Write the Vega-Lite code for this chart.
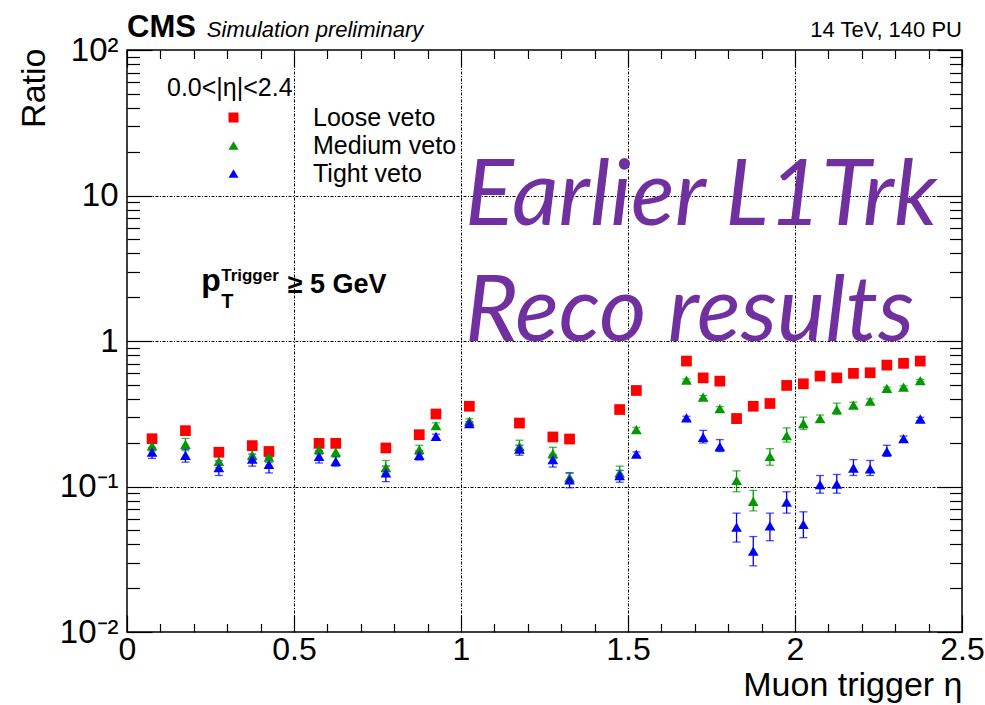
{
  "$schema": "https://vega.github.io/schema/vega-lite/v6.json",
  "width": 835,
  "height": 582,
  "autosize": {"type": "none"},
  "padding": {"left": 127, "top": 50, "right": 23, "bottom": 73},
  "background": "white",
  "config": {
    "font": "Liberation Sans",
    "view": {"stroke": "black", "strokeWidth": 1.5}
  },
  "datasets": {
    "ratios": [
      {"eta": 0.075, "veto": "Loose veto", "ratio": 0.213, "lo": 0.203, "hi": 0.223},
      {"eta": 0.175, "veto": "Loose veto", "ratio": 0.242, "lo": 0.228, "hi": 0.256},
      {"eta": 0.275, "veto": "Loose veto", "ratio": 0.172, "lo": 0.163, "hi": 0.181},
      {"eta": 0.375, "veto": "Loose veto", "ratio": 0.191, "lo": 0.181, "hi": 0.201},
      {"eta": 0.425, "veto": "Loose veto", "ratio": 0.174, "lo": 0.163, "hi": 0.186},
      {"eta": 0.575, "veto": "Loose veto", "ratio": 0.198, "lo": 0.189, "hi": 0.207},
      {"eta": 0.625, "veto": "Loose veto", "ratio": 0.198, "lo": 0.189, "hi": 0.207},
      {"eta": 0.775, "veto": "Loose veto", "ratio": 0.184, "lo": 0.174, "hi": 0.194},
      {"eta": 0.875, "veto": "Loose veto", "ratio": 0.227, "lo": 0.218, "hi": 0.236},
      {"eta": 0.925, "veto": "Loose veto", "ratio": 0.315, "lo": 0.305, "hi": 0.325},
      {"eta": 1.025, "veto": "Loose veto", "ratio": 0.356, "lo": 0.346, "hi": 0.366},
      {"eta": 1.175, "veto": "Loose veto", "ratio": 0.273, "lo": 0.265, "hi": 0.281},
      {"eta": 1.275, "veto": "Loose veto", "ratio": 0.219, "lo": 0.211, "hi": 0.227},
      {"eta": 1.325, "veto": "Loose veto", "ratio": 0.212, "lo": 0.204, "hi": 0.220},
      {"eta": 1.475, "veto": "Loose veto", "ratio": 0.338, "lo": 0.330, "hi": 0.346},
      {"eta": 1.525, "veto": "Loose veto", "ratio": 0.457, "lo": 0.447, "hi": 0.467},
      {"eta": 1.675, "veto": "Loose veto", "ratio": 0.728, "lo": 0.715, "hi": 0.741},
      {"eta": 1.725, "veto": "Loose veto", "ratio": 0.558, "lo": 0.546, "hi": 0.570},
      {"eta": 1.775, "veto": "Loose veto", "ratio": 0.530, "lo": 0.518, "hi": 0.542},
      {"eta": 1.825, "veto": "Loose veto", "ratio": 0.293, "lo": 0.272, "hi": 0.314},
      {"eta": 1.875, "veto": "Loose veto", "ratio": 0.356, "lo": 0.343, "hi": 0.369},
      {"eta": 1.925, "veto": "Loose veto", "ratio": 0.372, "lo": 0.355, "hi": 0.389},
      {"eta": 1.975, "veto": "Loose veto", "ratio": 0.495, "lo": 0.483, "hi": 0.507},
      {"eta": 2.025, "veto": "Loose veto", "ratio": 0.508, "lo": 0.496, "hi": 0.520},
      {"eta": 2.075, "veto": "Loose veto", "ratio": 0.574, "lo": 0.562, "hi": 0.586},
      {"eta": 2.125, "veto": "Loose veto", "ratio": 0.558, "lo": 0.546, "hi": 0.570},
      {"eta": 2.175, "veto": "Loose veto", "ratio": 0.599, "lo": 0.587, "hi": 0.611},
      {"eta": 2.225, "veto": "Loose veto", "ratio": 0.605, "lo": 0.593, "hi": 0.617},
      {"eta": 2.275, "veto": "Loose veto", "ratio": 0.683, "lo": 0.671, "hi": 0.695},
      {"eta": 2.325, "veto": "Loose veto", "ratio": 0.702, "lo": 0.690, "hi": 0.714},
      {"eta": 2.375, "veto": "Loose veto", "ratio": 0.728, "lo": 0.716, "hi": 0.740},

      {"eta": 0.075, "veto": "Medium veto", "ratio": 0.190, "lo": 0.176, "hi": 0.205},
      {"eta": 0.175, "veto": "Medium veto", "ratio": 0.195, "lo": 0.176, "hi": 0.214},
      {"eta": 0.275, "veto": "Medium veto", "ratio": 0.149, "lo": 0.135, "hi": 0.166},
      {"eta": 0.375, "veto": "Medium veto", "ratio": 0.164, "lo": 0.151, "hi": 0.177},
      {"eta": 0.425, "veto": "Medium veto", "ratio": 0.159, "lo": 0.146, "hi": 0.178},
      {"eta": 0.575, "veto": "Medium veto", "ratio": 0.180, "lo": 0.166, "hi": 0.199},
      {"eta": 0.625, "veto": "Medium veto", "ratio": 0.172, "lo": 0.159, "hi": 0.186},
      {"eta": 0.775, "veto": "Medium veto", "ratio": 0.135, "lo": 0.123, "hi": 0.151},
      {"eta": 0.875, "veto": "Medium veto", "ratio": 0.179, "lo": 0.166, "hi": 0.192},
      {"eta": 0.925, "veto": "Medium veto", "ratio": 0.262, "lo": 0.250, "hi": 0.274},
      {"eta": 1.025, "veto": "Medium veto", "ratio": 0.281, "lo": 0.270, "hi": 0.292},
      {"eta": 1.175, "veto": "Medium veto", "ratio": 0.189, "lo": 0.176, "hi": 0.208},
      {"eta": 1.275, "veto": "Medium veto", "ratio": 0.168, "lo": 0.155, "hi": 0.186},
      {"eta": 1.325, "veto": "Medium veto", "ratio": 0.115, "lo": 0.106, "hi": 0.124},
      {"eta": 1.475, "veto": "Medium veto", "ratio": 0.124, "lo": 0.114, "hi": 0.138},
      {"eta": 1.525, "veto": "Medium veto", "ratio": 0.246, "lo": 0.237, "hi": 0.255},
      {"eta": 1.675, "veto": "Medium veto", "ratio": 0.538, "lo": 0.527, "hi": 0.549},
      {"eta": 1.725, "veto": "Medium veto", "ratio": 0.411, "lo": 0.400, "hi": 0.422},
      {"eta": 1.775, "veto": "Medium veto", "ratio": 0.343, "lo": 0.332, "hi": 0.354},
      {"eta": 1.825, "veto": "Medium veto", "ratio": 0.110, "lo": 0.092, "hi": 0.128},
      {"eta": 1.875, "veto": "Medium veto", "ratio": 0.079, "lo": 0.068, "hi": 0.094},
      {"eta": 1.925, "veto": "Medium veto", "ratio": 0.161, "lo": 0.140, "hi": 0.182},
      {"eta": 1.975, "veto": "Medium veto", "ratio": 0.224, "lo": 0.202, "hi": 0.253},
      {"eta": 2.025, "veto": "Medium veto", "ratio": 0.271, "lo": 0.247, "hi": 0.300},
      {"eta": 2.075, "veto": "Medium veto", "ratio": 0.293, "lo": 0.277, "hi": 0.310},
      {"eta": 2.125, "veto": "Medium veto", "ratio": 0.338, "lo": 0.314, "hi": 0.374},
      {"eta": 2.175, "veto": "Medium veto", "ratio": 0.362, "lo": 0.345, "hi": 0.380},
      {"eta": 2.225, "veto": "Medium veto", "ratio": 0.386, "lo": 0.372, "hi": 0.400},
      {"eta": 2.275, "veto": "Medium veto", "ratio": 0.472, "lo": 0.462, "hi": 0.482},
      {"eta": 2.325, "veto": "Medium veto", "ratio": 0.482, "lo": 0.472, "hi": 0.492},
      {"eta": 2.375, "veto": "Medium veto", "ratio": 0.535, "lo": 0.525, "hi": 0.545},

      {"eta": 0.075, "veto": "Tight veto", "ratio": 0.172, "lo": 0.156, "hi": 0.185},
      {"eta": 0.175, "veto": "Tight veto", "ratio": 0.164, "lo": 0.147, "hi": 0.180},
      {"eta": 0.275, "veto": "Tight veto", "ratio": 0.135, "lo": 0.119, "hi": 0.150},
      {"eta": 0.375, "veto": "Tight veto", "ratio": 0.154, "lo": 0.138, "hi": 0.167},
      {"eta": 0.425, "veto": "Tight veto", "ratio": 0.142, "lo": 0.124, "hi": 0.157},
      {"eta": 0.575, "veto": "Tight veto", "ratio": 0.161, "lo": 0.145, "hi": 0.176},
      {"eta": 0.625, "veto": "Tight veto", "ratio": 0.149, "lo": 0.138, "hi": 0.161},
      {"eta": 0.775, "veto": "Tight veto", "ratio": 0.124, "lo": 0.108, "hi": 0.138},
      {"eta": 0.875, "veto": "Tight veto", "ratio": 0.164, "lo": 0.152, "hi": 0.176},
      {"eta": 0.925, "veto": "Tight veto", "ratio": 0.221, "lo": 0.213, "hi": 0.229},
      {"eta": 1.025, "veto": "Tight veto", "ratio": 0.271, "lo": 0.263, "hi": 0.279},
      {"eta": 1.175, "veto": "Tight veto", "ratio": 0.181, "lo": 0.164, "hi": 0.192},
      {"eta": 1.275, "veto": "Tight veto", "ratio": 0.153, "lo": 0.136, "hi": 0.165},
      {"eta": 1.325, "veto": "Tight veto", "ratio": 0.111, "lo": 0.098, "hi": 0.124},
      {"eta": 1.475, "veto": "Tight veto", "ratio": 0.119, "lo": 0.107, "hi": 0.129},
      {"eta": 1.525, "veto": "Tight veto", "ratio": 0.167, "lo": 0.161, "hi": 0.173},
      {"eta": 1.675, "veto": "Tight veto", "ratio": 0.296, "lo": 0.288, "hi": 0.304},
      {"eta": 1.725, "veto": "Tight veto", "ratio": 0.218, "lo": 0.199, "hi": 0.243},
      {"eta": 1.775, "veto": "Tight veto", "ratio": 0.188, "lo": 0.174, "hi": 0.210},
      {"eta": 1.825, "veto": "Tight veto", "ratio": 0.0525, "lo": 0.0415, "hi": 0.0656},
      {"eta": 1.875, "veto": "Tight veto", "ratio": 0.036, "lo": 0.0285, "hi": 0.0453},
      {"eta": 1.925, "veto": "Tight veto", "ratio": 0.0537, "lo": 0.0424, "hi": 0.0656},
      {"eta": 1.975, "veto": "Tight veto", "ratio": 0.078, "lo": 0.0656, "hi": 0.092},
      {"eta": 2.025, "veto": "Tight veto", "ratio": 0.055, "lo": 0.0445, "hi": 0.067},
      {"eta": 2.075, "veto": "Tight veto", "ratio": 0.103, "lo": 0.090, "hi": 0.119},
      {"eta": 2.125, "veto": "Tight veto", "ratio": 0.104, "lo": 0.090, "hi": 0.121},
      {"eta": 2.175, "veto": "Tight veto", "ratio": 0.134, "lo": 0.119, "hi": 0.153},
      {"eta": 2.225, "veto": "Tight veto", "ratio": 0.132, "lo": 0.119, "hi": 0.151},
      {"eta": 2.275, "veto": "Tight veto", "ratio": 0.174, "lo": 0.161, "hi": 0.192},
      {"eta": 2.325, "veto": "Tight veto", "ratio": 0.213, "lo": 0.204, "hi": 0.222},
      {"eta": 2.375, "veto": "Tight veto", "ratio": 0.291, "lo": 0.283, "hi": 0.299}
    ],
    "one": [{}]
  },
  "layer": [
    {
      "data": {"name": "ratios"},
      "mark": {"type": "rule", "strokeWidth": 1.3},
      "encoding": {
        "x": {
          "field": "eta", "type": "quantitative",
          "scale": {"domain": [0, 2.5], "nice": false, "zero": false},
          "axis": {
            "orient": "bottom",
            "values": [0, 0.1, 0.2, 0.3, 0.4, 0.5, 0.6, 0.7, 0.8, 0.9, 1, 1.1, 1.2, 1.3, 1.4, 1.5, 1.6, 1.7, 1.8, 1.9, 2, 2.1, 2.2, 2.3, 2.4, 2.5],
            "domain": false,
            "labelExpr": "abs(datum.value*2-round(datum.value*2))<1e-6 ? format(datum.value, '~g') : ''",
            "labelFont": "Liberation Sans", "labelFontSize": 32, "labelColor": "black",
            "labelFlush": false, "labelOverlap": false, "labelPadding": 19,
            "tickColor": "black", "tickWidth": 1.2,
            "tickSize": {"condition": {"test": "abs(datum.value*2-round(datum.value*2))<1e-6", "value": -17}, "value": -8.5},
            "grid": true, "gridColor": "black", "gridWidth": 1, "gridDash": [3, 1.5, 1, 1.5],
            "gridOpacity": {"condition": {"test": "datum.value>0.01 && datum.value<2.49 && abs(datum.value*2-round(datum.value*2))<1e-6", "value": 1}, "value": 0},
            "title": "Muon trigger η", "titleFont": "Liberation Sans", "titleFontSize": 34, "titleFontWeight": "normal", "titleColor": "black",
            "titleAnchor": "end", "titleAlign": "right", "titleBaseline": "alphabetic", "titleX": 835, "titleY": 63
          }
        },
        "y": {
          "field": "lo", "type": "quantitative",
          "scale": {"type": "log", "domain": [0.01, 100], "nice": false},
          "axis": {
            "orient": "left",
            "values": [0.01, 0.02, 0.03, 0.04, 0.05, 0.06, 0.07, 0.08, 0.09, 0.1, 0.2, 0.3, 0.4, 0.5, 0.6, 0.7, 0.8, 0.9, 1, 2, 3, 4, 5, 6, 7, 8, 9, 10, 20, 30, 40, 50, 60, 70, 80, 90, 100],
            "domain": false,
            "labelExpr": "abs(log(datum.value)/LN10-round(log(datum.value)/LN10))<1e-6 ? (round(log(datum.value)/LN10)==2 ? '10²' : round(log(datum.value)/LN10)==1 ? '10' : round(log(datum.value)/LN10)==0 ? '1' : round(log(datum.value)/LN10)==-1 ? '10⁻¹' : '10⁻²') : ''",
            "labelFont": "Liberation Sans", "labelFontSize": 33, "labelColor": "black",
            "labelFlush": false, "labelOverlap": false, "labelPadding": 34,
            "tickColor": "black", "tickWidth": 1.2,
            "tickSize": {"condition": {"test": "abs(log(datum.value)/LN10-round(log(datum.value)/LN10))<1e-6", "value": -25}, "value": -12.5},
            "grid": true, "gridColor": "black", "gridWidth": 1, "gridDash": [3, 1.5, 1, 1.5],
            "gridOpacity": {"condition": {"test": "datum.value>0.05 && datum.value<50 && abs(log(datum.value)/LN10-round(log(datum.value)/LN10))<1e-6", "value": 1}, "value": 0},
            "title": "Ratio", "titleFont": "Liberation Sans", "titleFontSize": 34, "titleFontWeight": "normal", "titleColor": "black",
            "titleAngle": -90, "titleAlign": "right", "titleBaseline": "alphabetic", "titleX": -83, "titleY": -2
          }
        },
        "y2": {"field": "hi"},
        "color": {
          "field": "veto", "type": "nominal",
          "scale": {"domain": ["Loose veto", "Medium veto", "Tight veto"], "range": ["#ff0000", "#009900", "#0000ff"]},
          "legend": null
        }
      }
    },
    {
      "data": {"name": "ratios"},
      "mark": {"type": "tick", "orient": "horizontal", "size": 8, "thickness": 1.3},
      "encoding": {
        "x": {"field": "eta", "type": "quantitative", "axis": null},
        "y": {"field": "lo", "type": "quantitative", "axis": null},
        "color": {"field": "veto", "type": "nominal", "legend": null}
      }
    },
    {
      "data": {"name": "ratios"},
      "mark": {"type": "tick", "orient": "horizontal", "size": 8, "thickness": 1.3},
      "encoding": {
        "x": {"field": "eta", "type": "quantitative", "axis": null},
        "y": {"field": "hi", "type": "quantitative", "axis": null},
        "color": {"field": "veto", "type": "nominal", "legend": null}
      }
    },
    {
      "data": {"name": "ratios"},
      "mark": {"type": "point", "filled": true, "opacity": 1, "size": 115},
      "encoding": {
        "x": {
          "field": "eta", "type": "quantitative",
          "axis": {
            "orient": "top", "labels": false, "domain": false, "grid": false, "title": null,
            "values": [0, 0.1, 0.2, 0.3, 0.4, 0.5, 0.6, 0.7, 0.8, 0.9, 1, 1.1, 1.2, 1.3, 1.4, 1.5, 1.6, 1.7, 1.8, 1.9, 2, 2.1, 2.2, 2.3, 2.4, 2.5],
            "tickColor": "black", "tickWidth": 1.2,
            "tickSize": {"condition": {"test": "abs(datum.value*2-round(datum.value*2))<1e-6", "value": -17}, "value": -8.5}
          }
        },
        "y": {
          "field": "ratio", "type": "quantitative",
          "axis": {
            "orient": "right", "labels": false, "domain": false, "grid": false, "title": null,
            "values": [0.01, 0.02, 0.03, 0.04, 0.05, 0.06, 0.07, 0.08, 0.09, 0.1, 0.2, 0.3, 0.4, 0.5, 0.6, 0.7, 0.8, 0.9, 1, 2, 3, 4, 5, 6, 7, 8, 9, 10, 20, 30, 40, 50, 60, 70, 80, 90, 100],
            "tickColor": "black", "tickWidth": 1.2,
            "tickSize": {"condition": {"test": "abs(log(datum.value)/LN10-round(log(datum.value)/LN10))<1e-6", "value": -25}, "value": -12.5}
          }
        },
        "color": {
          "field": "veto", "type": "nominal",
          "legend": {
            "orient": "none", "legendX": 40, "legendY": 26, "padding": 0,
            "title": "0.0<|η|<2.4", "titleFont": "Liberation Sans", "titleFontSize": 25, "titleFontWeight": "normal", "titleColor": "black", "titlePadding": 4,
            "labelFont": "Liberation Sans", "labelFontSize": 25, "labelColor": "black", "labelOffset": 67,
            "symbolSize": 100, "symbolOffset": 54, "symbolStrokeWidth": 0, "rowPadding": 2
          }
        },
        "shape": {
          "field": "veto", "type": "nominal",
          "scale": {"domain": ["Loose veto", "Medium veto", "Tight veto"], "range": ["square", "triangle-up", "triangle-up"]},
          "legend": {
            "orient": "none", "legendX": 40, "legendY": 26, "padding": 0,
            "title": "0.0<|η|<2.4", "titleFont": "Liberation Sans", "titleFontSize": 25, "titleFontWeight": "normal", "titleColor": "black", "titlePadding": 4,
            "labelFont": "Liberation Sans", "labelFontSize": 25, "labelColor": "black", "labelOffset": 67,
            "symbolSize": 100, "symbolOffset": 54, "symbolStrokeWidth": 0, "rowPadding": 2
          }
        }
      }
    },
    {
      "data": {"name": "one"},
      "mark": {"type": "text", "text": "CMS", "font": "Liberation Sans", "fontSize": 31, "fontWeight": "bold", "align": "left", "baseline": "alphabetic", "color": "black"},
      "encoding": {
        "x": {"datum": 0.0, "type": "quantitative", "axis": null},
        "y": {"datum": 122.9, "type": "quantitative", "axis": null}
      }
    },
    {
      "data": {"name": "one"},
      "mark": {"type": "text", "text": "Simulation preliminary", "font": "Liberation Sans", "fontSize": 22, "fontStyle": "italic", "align": "left", "baseline": "alphabetic", "color": "black"},
      "encoding": {
        "x": {"datum": 0.239, "type": "quantitative", "axis": null},
        "y": {"datum": 122.9, "type": "quantitative", "axis": null}
      }
    },
    {
      "data": {"name": "one"},
      "mark": {"type": "text", "text": "14 TeV, 140 PU", "font": "Liberation Sans", "fontSize": 22, "align": "right", "baseline": "alphabetic", "color": "black"},
      "encoding": {
        "x": {"datum": 2.5, "type": "quantitative", "axis": null},
        "y": {"datum": 122.9, "type": "quantitative", "axis": null}
      }
    },
    {
      "data": {"name": "one"},
      "mark": {"type": "text", "text": "p", "font": "Liberation Sans", "fontSize": 32, "fontWeight": "bold", "align": "left", "baseline": "alphabetic", "color": "black"},
      "encoding": {
        "x": {"datum": 0.222, "type": "quantitative", "axis": null},
        "y": {"datum": 2.21, "type": "quantitative", "axis": null}
      }
    },
    {
      "data": {"name": "one"},
      "mark": {"type": "text", "text": "T", "font": "Liberation Sans", "fontSize": 20, "fontWeight": "bold", "align": "left", "baseline": "alphabetic", "color": "black"},
      "encoding": {
        "x": {"datum": 0.282, "type": "quantitative", "axis": null},
        "y": {"datum": 1.69, "type": "quantitative", "axis": null}
      }
    },
    {
      "data": {"name": "one"},
      "mark": {"type": "text", "text": "Trigger", "font": "Liberation Sans", "fontSize": 17, "fontWeight": "bold", "align": "left", "baseline": "alphabetic", "color": "black"},
      "encoding": {
        "x": {"datum": 0.282, "type": "quantitative", "axis": null},
        "y": {"datum": 2.59, "type": "quantitative", "axis": null}
      }
    },
    {
      "data": {"name": "one"},
      "mark": {"type": "text", "text": "≥ 5 GeV", "font": "Liberation Sans", "fontSize": 27, "fontWeight": "bold", "align": "left", "baseline": "alphabetic", "color": "black"},
      "encoding": {
        "x": {"datum": 0.481, "type": "quantitative", "axis": null},
        "y": {"datum": 2.14, "type": "quantitative", "axis": null}
      }
    },
    {
      "data": {"name": "one"},
      "mark": {"type": "text", "text": "Earlier L1Trk", "font": "Lato", "fontSize": 91, "fontStyle": "italic", "align": "left", "baseline": "alphabetic", "color": "#7030a0"},
      "encoding": {
        "x": {"datum": 1.012, "type": "quantitative", "axis": null},
        "y": {"datum": 6.31, "type": "quantitative", "axis": null}
      }
    },
    {
      "data": {"name": "one"},
      "mark": {"type": "text", "text": "Reco results", "font": "Lato", "fontSize": 91, "fontStyle": "italic", "align": "left", "baseline": "alphabetic", "color": "#7030a0"},
      "encoding": {
        "x": {"datum": 1.012, "type": "quantitative", "axis": null},
        "y": {"datum": 1.0, "type": "quantitative", "axis": null}
      }
    }
  ],
  "resolve": {
    "axis": {"x": "independent", "y": "independent"},
    "legend": {"color": "independent", "shape": "independent"}
  }
}
